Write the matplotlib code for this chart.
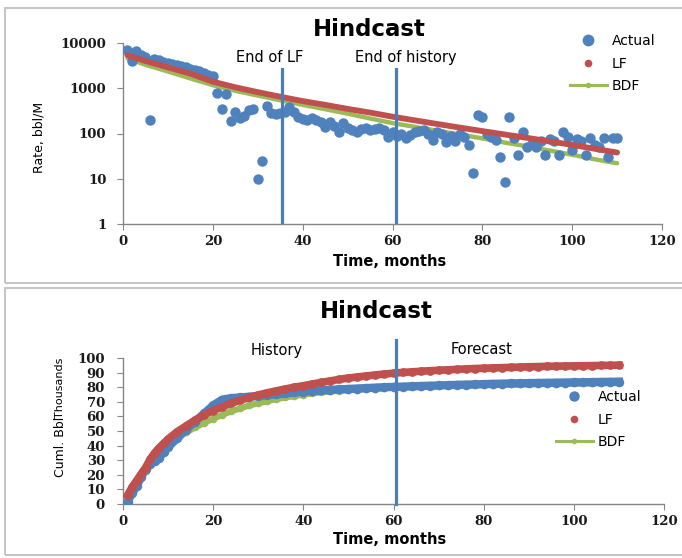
import matplotlib
matplotlib.use("Agg")
import matplotlib.pyplot as plt
import matplotlib.ticker as mticker
from matplotlib.lines import Line2D
from matplotlib.patches import Rectangle
import numpy as np

W, H = 682, 558

BLUE = '#4F81BD'
RED = '#C0504D'
GREEN = '#9BBB59'
VLINE = '#4A7EBB'
AXIS_GREY = '#868686'

# monthly production rate, bbl/M
rate_months = np.arange(1, 111)
rate_actual = [
    7000, 4000, 6800, 5500, 5000, 200, 4500, 4200, 3900, 3700,
    3500, 3300, 3100, 2900, 2700, 2500, 2350, 2200, 2000, 1900,
    800, 350, 750, 190, 300, 220, 240, 330, 340, 10,
    25, 410, 280, 270, 280, 300, 390, 300, 230, 210,
    200, 220, 200, 180, 140, 180, 150, 108, 170, 130,
    120, 110, 125, 130, 120, 125, 130, 120, 84, 110,
    90, 100, 80, 95, 110, 115, 120, 100, 72, 110,
    100, 65, 90, 70, 100, 85, 55, 13.5, 255, 230,
    100, 85, 72, 30, 8.5, 230, 80, 33, 110, 50,
    60, 50, 70, 33, 75, 70, 33, 110, 85, 43,
    75, 70, 33, 80, 55, 50, 80, 30, 80, 80,
]

fit_months = [1, 5, 10, 15, 20, 25, 30, 35, 40, 45, 50, 55,
              60, 65, 70, 75, 80, 85, 90, 95, 100, 105, 110]
rate_lf = [5400, 4000, 2900, 2100, 1400, 1050, 820, 650, 520, 430, 350, 290,
           235, 195, 162, 135, 113, 95, 80, 67, 56, 46, 38]
rate_bdf = [4600, 3300, 2350, 1650, 1170, 880, 690, 545, 430, 345, 275, 215,
            170, 140, 115, 95, 78, 63, 52, 42, 34, 27, 22]

# cumulative production, thousands of bbl
cum_months = list(range(1, 11)) + list(range(12, 112, 2))
cum_actual = [
    1.4, 7.5, 12, 18.5, 24, 27.5, 29.5, 31.5, 35.5, 39,
    45, 51, 56.5, 62, 67.5, 71.5, 72.5, 73, 73.5, 74,
    74.6, 75.2, 75.8, 76.4, 77, 77.4, 77.8, 78.2, 78.5, 78.8,
    79.1, 79.4, 79.7, 80, 80.2, 80.4, 80.6, 80.8, 81, 81.2,
    81.4, 81.6, 81.8, 81.9, 82.1, 82.3, 82.4, 82.6, 82.7, 82.8,
    82.9, 83, 83.1, 83.2, 83.3, 83.4, 83.5, 83.6, 83.7, 83.8,
]
cum_lf = [
    6, 11.5, 16, 20.5, 25, 30.5, 35, 38.5, 41.5, 44.5,
    49.5, 53.5, 57.5, 61, 64, 66.5, 69, 71, 73, 74.7,
    76.2, 77.5, 78.8, 80, 81, 82.2, 83.3, 84.3, 85.4, 86.3,
    87, 87.7, 88.4, 89, 89.6, 90.1, 90.5, 90.9, 91.3, 91.6,
    91.9, 92.2, 92.5, 92.8, 93, 93.2, 93.4, 93.6, 93.8, 94,
    94.1, 94.3, 94.4, 94.5, 94.6, 94.7, 94.8, 94.9, 95, 95.1,
]
cum_bdf = [
    5, 9.5, 14, 18.5, 22.5, 26.5, 30.5, 34, 37, 40,
    45, 49, 52.5, 55.5, 58.5, 61, 63.5, 65.5, 67.5, 69,
    70.5, 71.8, 73, 74, 75, 75.8, 76.5, 77.1, 77.6, 78,
    78.4, 78.8, 79.1, 79.4, 79.7, 80, 80.2, 80.4, 80.6, 80.8,
    81, 81.2, 81.3, 81.5, 81.6, 81.7, 81.8, 81.9, 82, 82.1,
    82.2, 82.3, 82.4, 82.5, 82.6, 82.6, 82.7, 82.8, 82.8, 82.9,
]

end_of_lf = 35.5
end_of_history = 60.7
series_names = ['Actual', 'LF', 'BDF']

TICK_FONT = dict(family='DejaVu Serif', weight='bold', size=9.5)


def box(left, top, right, bottom):
    """Axes rectangle from pixel edges."""
    return [left / W, 1 - bottom / H, (right - left) / W, (bottom - top) / H]


def style_axes(ax, ypad):
    for side in ['top', 'right']:
        ax.spines[side].set_visible(False)
    for side in ['left', 'bottom']:
        ax.spines[side].set_color(AXIS_GREY)
        ax.spines[side].set_linewidth(1.0)
    ax.tick_params(which='both', direction='out', length=4, color=AXIS_GREY)
    ax.tick_params(axis='x', pad=4)
    ax.tick_params(axis='y', pad=ypad)
    ax.minorticks_off()
    for lab in ax.get_xticklabels() + ax.get_yticklabels():
        lab.set_fontproperties(matplotlib.font_manager.FontProperties(**TICK_FONT))
        lab.set_color('#1a1a1a')


fig = plt.figure(figsize=(W / 100, H / 100), dpi=100)

# panel frames
for top, bottom in [(8, 283), (288, 555)]:
    fig.add_artist(Rectangle((5 / W, 1 - bottom / H), 700 / W, (bottom - top) / H,
                             transform=fig.transFigure, fill=False,
                             ec='#BFBFBF', lw=1.3))

# --- rate vs time ---
ax1 = fig.add_axes(box(123, 43, 662, 224))
ax1.set_yscale('log')
ax1.plot(fit_months, rate_bdf, color=GREEN, lw=3.2, solid_capstyle='round', zorder=2)
ax1.plot(rate_months, rate_actual, 'o', color=BLUE, ms=7.5, mew=0, zorder=3)
ax1.plot(fit_months, rate_lf, color=RED, lw=4.2, solid_capstyle='round', zorder=4)
ax1.plot([end_of_lf, end_of_lf], [1, 2700], color=VLINE, lw=2.3, zorder=5)
ax1.plot([end_of_history, end_of_history], [1, 2700], color=VLINE, lw=2.3, zorder=5)
ax1.text(end_of_lf - 2.8, 4700, 'End of LF', ha='center', va='center', fontsize=10.5)
ax1.text(end_of_history + 2.3, 4700, 'End of history', ha='center', va='center', fontsize=10.5)
ax1.set_xlim(0, 120)
ax1.set_ylim(1, 10000)
ax1.set_xticks(range(0, 121, 20))
ax1.set_yticks([1, 10, 100, 1000, 10000])
ax1.yaxis.set_major_formatter(mticker.FuncFormatter(lambda v, p: f'{v:g}'))
style_axes(ax1, 8)

fig.text(369 / W, 1 - 29 / H, 'Hindcast', ha='center', va='center',
         fontsize=16.5, fontweight='bold')
fig.text(390 / W, 1 - 262 / H, 'Time, months', ha='center', va='center',
         fontsize=10.5, fontweight='bold')
fig.text(39 / W, 1 - 137 / H, 'Rate, bbl/M', rotation=90, ha='center', va='center',
         fontsize=9)

top_handles = [
    Line2D([], [], ls='none', marker='o', ms=8.5, mew=0, color=BLUE),
    Line2D([], [], ls='none', marker='o', ms=5.5, mew=0, color=RED),
    Line2D([], [], color=GREEN, lw=2.2, marker='o', ms=4, mew=0),
]
fig.legend(top_handles, series_names, loc='upper left',
           bbox_to_anchor=(570 / W, 1 - 34 / H), frameon=False, borderpad=0,
           borderaxespad=0, handlelength=2.65, handletextpad=0.35,
           labelspacing=0.62, fontsize=10)

# --- cumulative production vs time ---
ax2 = fig.add_axes(box(123, 358, 664, 504))
ax2.plot(cum_months, cum_bdf, '-o', color=GREEN, lw=4.5, ms=5.5, mew=0, zorder=2)
ax2.plot(cum_months, cum_actual, '-o', color=BLUE, lw=6, ms=6.8, mew=0, zorder=3)
ax2.plot(cum_months, cum_lf, '-o', color=RED, lw=5.5, ms=6.3, mew=0, zorder=4)
ax2.plot([60.5, 60.5], [0, 112], color=VLINE, lw=2.3, zorder=5, clip_on=False)
ax2.text(34, 105, 'History', ha='center', va='center', fontsize=10.5)
ax2.text(79.5, 106, 'Forecast', ha='center', va='center', fontsize=10.5)
ax2.set_xlim(0, 120)
ax2.set_ylim(0, 100)
ax2.set_xticks(range(0, 121, 20))
ax2.set_yticks(range(0, 101, 10))
style_axes(ax2, 9)

fig.text(376 / W, 1 - 312 / H, 'Hindcast', ha='center', va='center',
         fontsize=16.5, fontweight='bold')
fig.text(390 / W, 1 - 540 / H, 'Time, months', ha='center', va='center',
         fontsize=10.5, fontweight='bold')
fig.text(60 / W, 1 - 477 / H, 'Cuml. Bbl', rotation=90, ha='center', va='bottom',
         fontsize=9)
fig.text(60 / W, 1 - 358 / H, 'Thousands', rotation=90, ha='center', va='top',
         fontsize=8)

bottom_handles = [
    Line2D([], [], ls='none', marker='o', ms=7.5, mew=0, color=BLUE),
    Line2D([], [], ls='none', marker='o', ms=5.5, mew=0, color=RED),
    Line2D([], [], color=GREEN, lw=2.2, marker='o', ms=4, mew=0),
]
fig.legend(bottom_handles, series_names, loc='upper left',
           bbox_to_anchor=(556 / W, 1 - 390 / H), frameon=False, borderpad=0,
           borderaxespad=0, handlelength=2.65, handletextpad=0.35,
           labelspacing=0.62, fontsize=10)

fig.savefig('out.png', dpi=100, facecolor='white')
